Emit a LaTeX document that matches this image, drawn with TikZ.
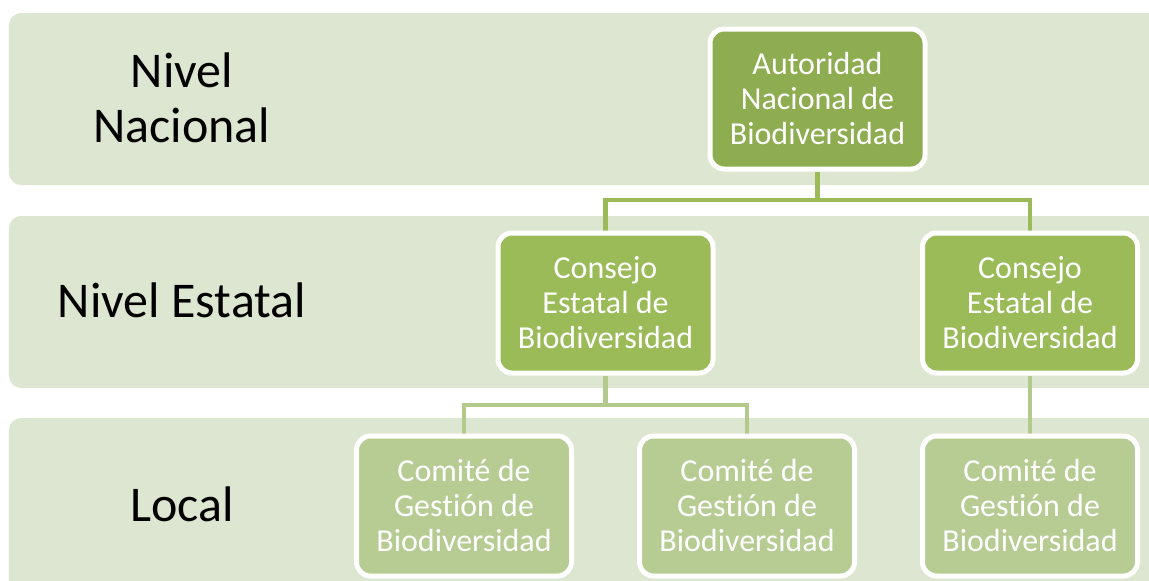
\documentclass[tikz,border=0pt]{standalone}
\usepackage{fontspec}
\setmainfont{Carlito}[RawFeature={-liga;-clig;-dlig;-calt;-rlig}]
\definecolor{bandc}{HTML}{DDE6D1}
\definecolor{topc}{HTML}{8EAC50}
\definecolor{midc}{HTML}{9BBB59}
\definecolor{lowc}{HTML}{B7CC93}
\definecolor{conA}{HTML}{9BBB59}
\definecolor{conB}{HTML}{B3CA8C}
\pgfdeclarelayer{bands}
\pgfdeclarelayer{conns}
\pgfsetlayers{bands,conns,main}
\tikzset{
  band/.style={fill=bandc, rounded corners=12pt},
  levellabel/.style={font=\fontsize{50}{55}\selectfont, text=black, align=center},
  orgbox/.style={draw=white, line width=5pt, rounded corners=14pt, minimum width=215pt, minimum height=140pt, inner sep=0pt, align=center, text=white, font=\fontsize{32}{35}\selectfont},
  conn/.style={line width=4.5pt}
}
\begin{document}
\begin{tikzpicture}[x=1pt,y=-1pt]
\useasboundingbox (0,0) rectangle (1149,581);
\begin{pgfonlayer}{bands}
\clip (0,0) rectangle (1149,581);
\fill[band] (9,13) rectangle (1175,185);
\fill[band] (9,216) rectangle (1175,388);
\fill[band] (9,418) rectangle (1175,600);
\end{pgfonlayer}
\node[levellabel] (lnac) at (182,98) {Nivel\\Nacional};
\node[levellabel] (lest) at (182,300) {Nivel Estatal};
\node[levellabel] (lloc) at (182,504) {Local};
\node[orgbox, fill=topc] (top) at (817.5,99) {Autoridad\\Nacional de\\Biodiversidad};
\node[orgbox, fill=midc] (c1) at (605.5,303) {Consejo\\Estatal de\\Biodiversidad};
\node[orgbox, fill=midc] (c2) at (1030,303) {Consejo\\Estatal de\\Biodiversidad};
\node[orgbox, fill=lowc] (m1) at (464,506) {Comité de\\Gest\kern0ptión de\\Biodiversidad};
\node[orgbox, fill=lowc] (m2) at (747,506) {Comité de\\Gest\kern0ptión de\\Biodiversidad};
\node[orgbox, fill=lowc] (m3) at (1030,506) {Comité de\\Gest\kern0ptión de\\Biodiversidad};
\coordinate (j1) at (817.5,200);
\coordinate (j2) at (605.5,405);
\begin{pgfonlayer}{conns}
\draw[conn, draw=conA] (top.south) -- (j1);
\draw[conn, draw=conA] (c1.north) |- (j1) -| (c2.north);
\draw[conn, draw=conB] (c1.south) -- (j2);
\draw[conn, draw=conB] (m1.north) |- (j2) -| (m2.north);
\draw[conn, draw=conB] (c2.south) -- (m3.north);
\end{pgfonlayer}
\end{tikzpicture}
\end{document}
